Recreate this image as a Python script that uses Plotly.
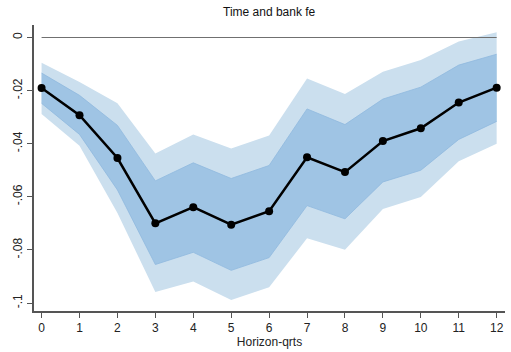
import plotly.graph_objects as go

horizon = list(range(13))
estimate = [-0.0190, -0.0293, -0.0454, -0.0700, -0.0639, -0.0705, -0.0654,
            -0.0451, -0.0507, -0.0390, -0.0342, -0.0245, -0.0189]
inner_upper = [-0.0134, -0.0218, -0.0331, -0.0540, -0.0472, -0.0531, -0.0482,
               -0.0269, -0.0328, -0.0232, -0.0187, -0.0104, -0.0063]
inner_lower = [-0.0248, -0.0365, -0.0574, -0.0855, -0.0809, -0.0877, -0.0829,
               -0.0633, -0.0683, -0.0544, -0.0500, -0.0384, -0.0316]
outer_upper = [-0.0095, -0.0168, -0.0248, -0.0437, -0.0365, -0.0418, -0.0369,
               -0.0154, -0.0213, -0.0129, -0.0085, -0.0015, 0.0020]
outer_lower = [-0.0288, -0.0408, -0.0661, -0.0958, -0.0919, -0.0989, -0.0941,
               -0.0756, -0.0799, -0.0646, -0.0601, -0.0466, -0.0400]
ytick_vals = [0, -0.02, -0.04, -0.06, -0.08, -0.1]
ytick_text = ["0", "-.02", "-.04", "-.06", "-.08", "-.1"]
zero_ref = [0, 0]
zero_x = [0, 12]

fig = go.Figure()
fig.add_trace(go.Scatter(x=horizon, y=outer_lower, mode="lines",
                         line=dict(width=0, color="rgba(0,0,0,0)"), showlegend=False, hoverinfo="skip"))
fig.add_trace(go.Scatter(x=horizon, y=outer_upper, mode="lines", fill="tonexty",
                         fillcolor="#cbdfee", line=dict(width=0, color="rgba(0,0,0,0)"),
                         showlegend=False, hoverinfo="skip"))
fig.add_trace(go.Scatter(x=horizon, y=inner_lower, mode="lines",
                         line=dict(width=0.8, color="#8fb9de"), showlegend=False, hoverinfo="skip"))
fig.add_trace(go.Scatter(x=horizon, y=inner_upper, mode="lines", fill="tonexty",
                         fillcolor="#9fc4e4", line=dict(width=0.8, color="#8fb9de"),
                         showlegend=False, hoverinfo="skip"))
fig.add_trace(go.Scatter(x=zero_x, y=zero_ref, mode="lines",
                         line=dict(width=1.2, color="#707070"), showlegend=False))
fig.add_trace(go.Scatter(x=horizon, y=estimate, mode="lines+markers",
                         line=dict(width=2.5, color="black"),
                         marker=dict(size=8, color="black"), showlegend=False))

fig.add_annotation(text="Time and bank fe", xref="paper", yref="paper",
                   x=0.5, xanchor="center", y=1.0, yshift=13, yanchor="middle",
                   showarrow=False, font=dict(size=12, color="#111"))

fig.update_layout(
    width=511, height=352,
    margin=dict(l=34, r=6, t=25, b=35),
    paper_bgcolor="white", plot_bgcolor="white",
    font=dict(family="Liberation Sans, Arial, sans-serif", size=12, color="#222"),
    xaxis=dict(range=[-0.2, 12.22], tickvals=horizon, ticktext=[str(h) for h in horizon],
               showgrid=False, zeroline=False, showline=True, linecolor="#555", linewidth=1.5,
               ticks="outside", ticklen=5, tickcolor="#555", tickwidth=1.2,
               title=dict(text="Horizon-qrts", standoff=2, font=dict(size=12)),
               tickfont=dict(size=12)),
    yaxis=dict(range=[-0.1030, 0.0047], tickvals=ytick_vals, ticktext=ytick_text,
               tickangle=-90, showgrid=False, zeroline=False, showline=True,
               linecolor="#555", linewidth=1.5, ticks="outside", ticklen=5,
               tickcolor="#555", tickwidth=1.2, tickfont=dict(size=12)),
)
fig.write_html("out.html")
